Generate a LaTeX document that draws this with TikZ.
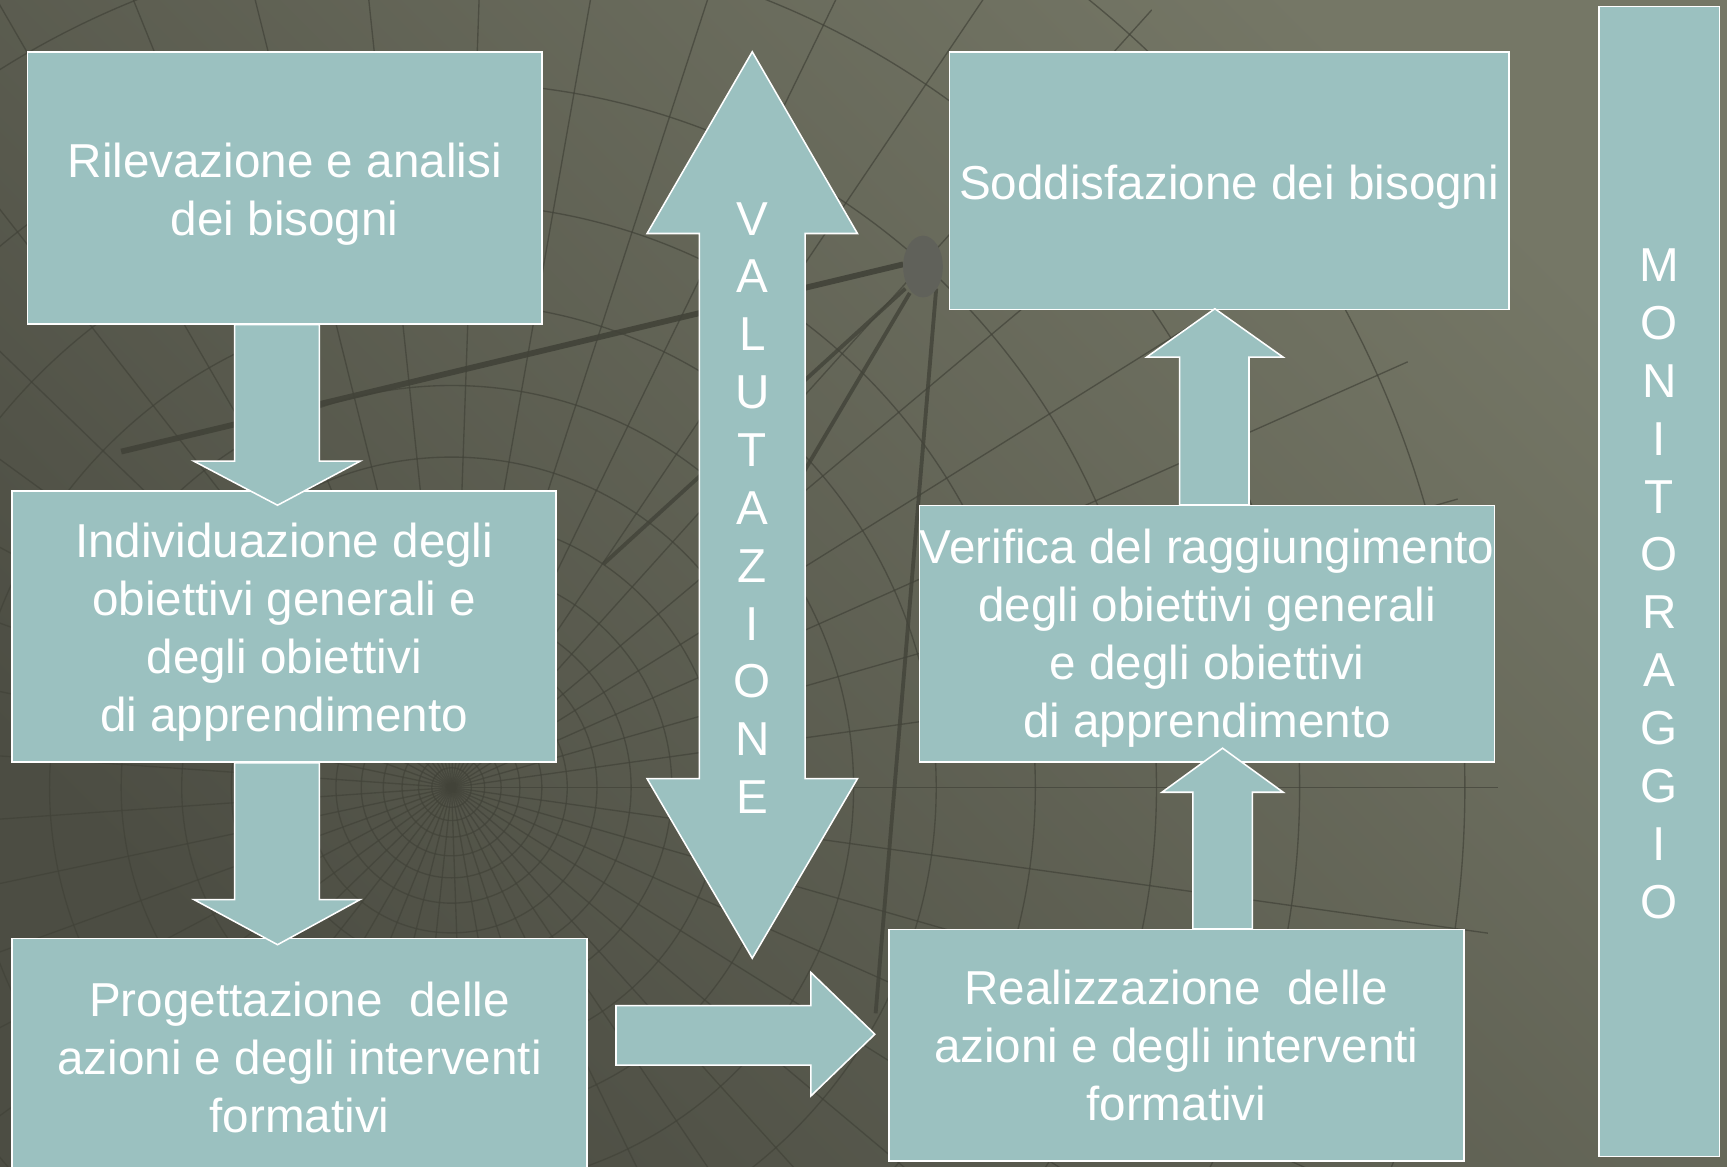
\documentclass[tikz,border=0pt]{standalone}
\usepackage{fontspec}
\setmainfont{Liberation Sans}
\usepackage{tikz}
\definecolor{boxfill}{RGB}{155,193,192}
\definecolor{bgtop}{RGB}{117,119,102}
\definecolor{bgbottom}{RGB}{76,77,67}
\definecolor{gridcol}{RGB}{66,67,57}
\definecolor{satcol}{RGB}{96,97,90}
\tikzset{box/.style={draw=white, line width=0.8pt, fill=boxfill, text=white, align=center, inner sep=0pt, font=\fontsize{24.6}{29.9}\selectfont}}
\tikzset{blockarrow/.style={draw=white, line width=0.8pt, fill=boxfill, line join=miter}}
\tikzset{gridline/.style={draw=gridcol, line width=0.7pt, opacity=0.7}}

\begin{document}
\begin{tikzpicture}[x=0.2mm, y=-0.2mm]
	\useasboundingbox (0,0) rectangle (1568,1059);
	% background
	\shade[top color=bgtop, bottom color=bgbottom, shading angle=-45] (0,0) rectangle (1568,1059);
	\begin{scope}
		\clip (410,715) circle (950);
		\foreach \r in {18,30,45,62,82,105,132,163,200,245,300,365,440,530,640,770,920}
			\draw[gridline] (410,715) circle (\r);
		\foreach \a in {0,8,...,352}
			\draw[gridline] (410,715) -- ++(\a:1000);
	\end{scope}
	\draw[gridcol, line width=3pt, opacity=0.9] (110,410) -- (820,240);
	\draw[gridcol, line width=2pt, opacity=0.8] (822,262) -- (548,512);
	\draw[gridcol, line width=2pt, opacity=0.8] (826,266) -- (640,580);
	\draw[gridcol, line width=2pt, opacity=0.8] (850,262) -- (795,920);
	\fill[satcol] (838,242) ellipse (18 and 28);

	% boxes
	\node[box, minimum width=93.4mm, minimum height=49.4mm, text height=54.4pt] (rilevazione) at (258.5,170.5) {Rilevazione e analisi\\dei bisogni};
	\node[box, minimum width=98.8mm, minimum height=49.2mm, text height=113.1pt] (individuazione) at (258,569) {Individuazione degli\\obiettivi generali e\\degli obiettivi\\di apprendimento};
	\node[box, minimum width=104.4mm, minimum height=43.2mm] (progettazione) at (272,960) {Progettazione\ \ delle\\azioni e degli interventi\\formativi};
	\node[box, minimum width=104.4mm, minimum height=42mm] (realizzazione) at (1068,949) {Realizzazione\ \ delle\\azioni e degli interventi\\formativi};
	\node[box, minimum width=104.4mm, minimum height=46.6mm, text height=112pt] (verifica) at (1096,575.5) {\makebox[100mm]{Verifica del raggiungimento}\\degli obiettivi generali\\e degli obiettivi\\di apprendimento};
	\node[box, minimum width=101.6mm, minimum height=46.8mm, text height=24.5pt] (soddisfazione) at (1116,164) {Soddisfazione dei bisogni};
	\node[box, minimum width=21.8mm, minimum height=208.8mm, text height=348pt] (monitoraggio) at (1506.5,528) {M\\O\\N\\I\\T\\O\\R\\A\\G\\G\\I\\O};

	% block arrows
	\draw[blockarrow, shift={(rilevazione.south)}] (-45.5,0) -- (-45.5,124) -- (-82.5,124) -- (-6.5,164) -- (68.5,124) -- (31.5,124) -- (31.5,0) -- cycle;
	\draw[blockarrow, shift={(individuazione.south)}] (-45,0) -- (-45,124) -- (-82,124) -- (-6,165) -- (69,124) -- (32,124) -- (32,0) -- cycle;
	\draw[blockarrow, shift={(realizzazione.west)}] (-247,-36) -- (-70,-36) -- (-70,-66) -- (-12,-10) -- (-70,46) -- (-70,18) -- (-247,18) -- cycle;
	\draw[blockarrow, shift={(realizzazione.north)}] (15,0) -- (15,-124) -- (-13,-124) -- (42,-164) -- (97,-124) -- (69,-124) -- (69,0) -- cycle;
	\draw[blockarrow, shift={(verifica.north)}] (-25,0) -- (-25,-134) -- (-55,-134) -- (7,-178) -- (69,-134) -- (38,-134) -- (38,0) -- cycle;

	% valutazione
	\coordinate (vcenter) at (683,458.5);
	\draw[blockarrow, shift={(vcenter)}] (0,-411.5) -- (95.5,-246.5) -- (48,-246.5) -- (48,248.5) -- (95.5,248.5) -- (0,411.5) -- (-95.5,248.5) -- (-48,248.5) -- (-48,-246.5) -- (-95.5,-246.5) -- cycle;
	\node[box, draw=none, fill=none, text height=319pt] (valutazione) at (vcenter) {V\\A\\L\\U\\T\\A\\Z\\I\\O\\N\\E};
\end{tikzpicture}
\end{document}
